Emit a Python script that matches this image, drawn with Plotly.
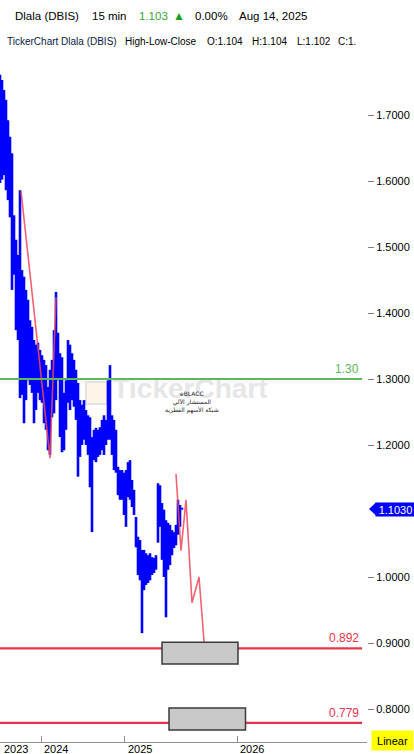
import plotly.graph_objects as go

# ---------------- data ----------------
# HLC bars (bar index along the time axis, one slot = one column of bars)
bar_index = list(range(0, 184, 2))
highs = [1.761, 1.753, 1.738, 1.723, 1.692, 1.667, 1.642, 1.548, 1.511, 1.488,
         1.586, 1.465, 1.455, 1.435, 1.420, 1.389, 1.379, 1.359, 1.352, 1.355,
         1.344, 1.336, 1.329, 1.321, 1.288, 1.314, 1.329, 1.374, 1.432, 1.370,
         1.339, 1.333, 1.279, 1.298, 1.359, 1.352, 1.339, 1.329, 1.314, 1.294,
         1.268, 1.261, 1.268, 1.253, 1.245, 1.242, 1.212, 1.223, 1.226, 1.223,
         1.227, 1.238, 1.245, 1.238, 1.298, 1.321, 1.245, 1.238, 1.223, 1.167,
         1.162, 1.162, 1.158, 1.162, 1.174, 1.177, 1.147, 1.132, 1.091, 1.061,
         1.056, 1.041, 1.041, 1.036, 1.033, 1.036, 1.030, 1.029, 1.033, 1.142,
         1.139, 1.112, 1.102, 1.086, 1.082, 1.079, 1.071, 1.068, 1.079, 1.117,
         1.109, 1.105]
lows = [1.597, 1.602, 1.609, 1.586, 1.571, 1.545, 1.435, 1.458, 1.374, 1.359,
        1.271, 1.276, 1.233, 1.268, 1.298, 1.291, 1.279, 1.233, 1.253, 1.279,
        1.268, 1.264, 1.233, 1.223, 1.192, 1.185, 1.242, 1.248, 1.268, 1.298,
        1.212, 1.189, 1.192, 1.223, 1.264, 1.253, 1.268, 1.258, 1.238, 1.152,
        1.182, 1.200, 1.208, 1.200, 1.185, 1.136, 1.068, 1.177, 1.174, 1.182,
        1.185, 1.192, 1.185, 1.200, 1.208, 1.208, 1.185, 1.162, 1.158, 1.124,
        1.117, 1.117, 1.094, 1.076, 1.121, 1.117, 1.106, 1.094, 1.045, 1.003,
        0.995, 0.915, 0.980, 0.988, 0.991, 0.995, 1.003, 1.006, 1.011, 1.052,
        1.076, 1.026, 1.000, 0.939, 1.011, 1.018, 1.033, 1.044, 1.048, 1.064,
        1.076, 1.102]
last_price = 1.103

# drawn trend lines
trend1_x = [21, 50, 56]
trend1_y = [1.585, 1.180, 1.424]
trend2_x = [176, 181, 186, 192, 199, 205]
trend2_y = [1.156, 1.040, 1.117, 0.961, 1.000, 0.884]

# horizontal levels
levels = [1.30, 0.892, 0.779]
level_labels = ["1.30", "0.892", "0.779"]
level_colors = ["#5cb85c", "#e8344a", "#e8344a"]

# target zones (x0, x1, y0, y1)
zones = [(162, 238, 0.868, 0.901), (169, 245.5, 0.768, 0.8015)]

# axes
year_ticks = [1, 41, 124.5, 237]
year_labels = ["2023", "2024", "2025", "2026"]
price_ticks = [0.8, 0.9, 1.0, 1.2, 1.3, 1.4, 1.5, 1.6, 1.7]

# ---------------- layout helpers ----------------
W, H = 414, 754
ML, MR, MT, MB = 0, 47, 60, 12
PW = W - ML - MR
PH = H - MT - MB
X_RANGE = [0, PW]
Y_RANGE = [0.75, 1.7 + 55 / 660]
FONT = "Liberation Sans"


def px(x):
    return (x - ML) / PW


def py(y):
    return (H - MB - y) / PH


def val(ypix):
    return 1.7 - (ypix - 115) / 660


fig = go.Figure()

# watermark (below the bars)
fig.add_trace(go.Scatter(
    x=[190], y=[1.2815], mode="text", text=["<b>TickerChart</b>"],
    textfont=dict(family=FONT, size=28, color="#e6e6e6"),
    hoverinfo="skip", showlegend=False))

# HLC bars as vertical high-low strokes
seg_x, seg_y = [], []
for xi, h, l in zip(bar_index, highs, lows):
    seg_x += [xi, xi, None]
    seg_y += [l, h, None]
fig.add_trace(go.Scatter(
    x=seg_x, y=seg_y, mode="lines", connectgaps=False,
    line=dict(color="#0000ff", width=2.6),
    hoverinfo="skip", showlegend=False))

# trend lines
for tx, ty in ((trend1_x, trend1_y), (trend2_x, trend2_y)):
    fig.add_trace(go.Scatter(
        x=tx, y=ty, mode="lines",
        line=dict(color="rgba(240,70,90,0.85)", width=1.6),
        hoverinfo="skip", showlegend=False))

# logo square of watermark
fig.add_shape(type="rect", x0=86, x1=107, y0=val(404), y1=val(382),
              line=dict(color="#e2e2e2", width=2), fillcolor="#fdf5e8", layer="below")

# level lines
for lv, lab, col in zip(levels, level_labels, level_colors):
    fig.add_shape(type="line", x0=0, x1=362, y0=lv, y1=lv,
                  line=dict(color=col, width=2.2))
    fig.add_annotation(x=361, y=lv, xref="x", yref="y", text=lab, showarrow=False,
                       xanchor="right", yanchor="bottom", yshift=1,
                       font=dict(family=FONT, size=12, color=col))

# zones
for x0, x1, y0, y1 in zones:
    fig.add_shape(type="rect", x0=x0, x1=x1, y0=y0, y1=y1,
                  line=dict(color="#3a3a3a", width=1.5), fillcolor="#c8c8c8")

# last price label
dy = 6.5 / 660
fig.add_shape(type="path", xref="paper", yref="y",
              path=f"M {px(369)},{last_price} L {px(376)},{last_price + dy} L {px(376)},{last_price - dy} Z",
              fillcolor="#0000ff", line=dict(width=0))
fig.add_annotation(x=px(375), y=last_price, xref="paper", yref="y", text=f"{last_price:.4f}",
                   showarrow=False, xanchor="left", yanchor="middle", bgcolor="#0000ff",
                   width=37, height=11, borderpad=1,
                   font=dict(family=FONT, size=11, color="white"))

# Linear box
fig.add_annotation(x=px(414), y=py(740), xref="paper", yref="paper", text="Linear",
                   showarrow=False, xanchor="right", yanchor="middle", bgcolor="#ffff00",
                   width=39, height=17, borderpad=1,
                   font=dict(family=FONT, size=11, color="black"))

# year labels
for xv, lab in zip(year_ticks, year_labels):
    fig.add_annotation(x=xv + 1, y=py(741), xref="x", yref="paper", text=lab,
                       showarrow=False, xanchor="left", yanchor="top",
                       font=dict(family=FONT, size=11, color="black"))

# header line 1
for x, txt, col, size in [(13, "Dlala (DBIS)", "black", 11.5), (90, "15 min", "black", 11.5),
                          (137, "1.103", "#33aa33", 11.5), (171, "▲", "#1a9e1a", 12),
                          (193, "0.00%", "black", 11.5), (237, "Aug 14, 2025", "black", 11.5)]:
    fig.add_annotation(x=px(x), y=py(16), xref="paper", yref="paper", text=txt, showarrow=False,
                       xanchor="left", yanchor="middle", font=dict(family=FONT, size=size, color=col))

# header line 2
for x, txt, col in [(5, "TickerChart Dlala (DBIS)", "#0a1a40"), (123, "High-Low-Close", "black"),
                    (205, "O:1.104", "black"), (250, "H:1.104", "black"),
                    (295, "L:1.102", "black"), (336, "C:1.", "black")]:
    fig.add_annotation(x=px(x), y=py(41), xref="paper", yref="paper", text=txt, showarrow=False,
                       xanchor="left", yanchor="middle", font=dict(family=FONT, size=10, color=col))

# small watermark text block
fig.add_annotation(x=192, y=val(402), xref="x", yref="y",
                   text="eBLACC<br>المستشار الآلي<br>شبكة الأسهم القطرية",
                   showarrow=False, xanchor="center", yanchor="middle", align="center",
                   borderpad=0, font=dict(family="DejaVu Sans", size=6, color="#222222"))

fig.update_layout(
    width=W, height=H, margin=dict(l=ML, r=MR, t=MT, b=MB, pad=0),
    paper_bgcolor="white", plot_bgcolor="white", showlegend=False,
    xaxis=dict(range=X_RANGE, tickvals=year_ticks, ticktext=[""] * len(year_ticks),
               ticks="inside", ticklen=6, tickcolor="#909090", showline=True,
               linecolor="#909090", linewidth=1, showgrid=False, zeroline=False),
    yaxis=dict(range=Y_RANGE, side="right", tickvals=price_ticks, tickformat=".4f",
               ticks="outside", ticklen=6, tickcolor="#808080",
               tickfont=dict(family=FONT, size=11, color="black"),
               showgrid=False, zeroline=False, showline=False),
)

fig.write_html("out.html", config={"displayModeBar": False},
               post_script="document.body.style.margin='0';")
